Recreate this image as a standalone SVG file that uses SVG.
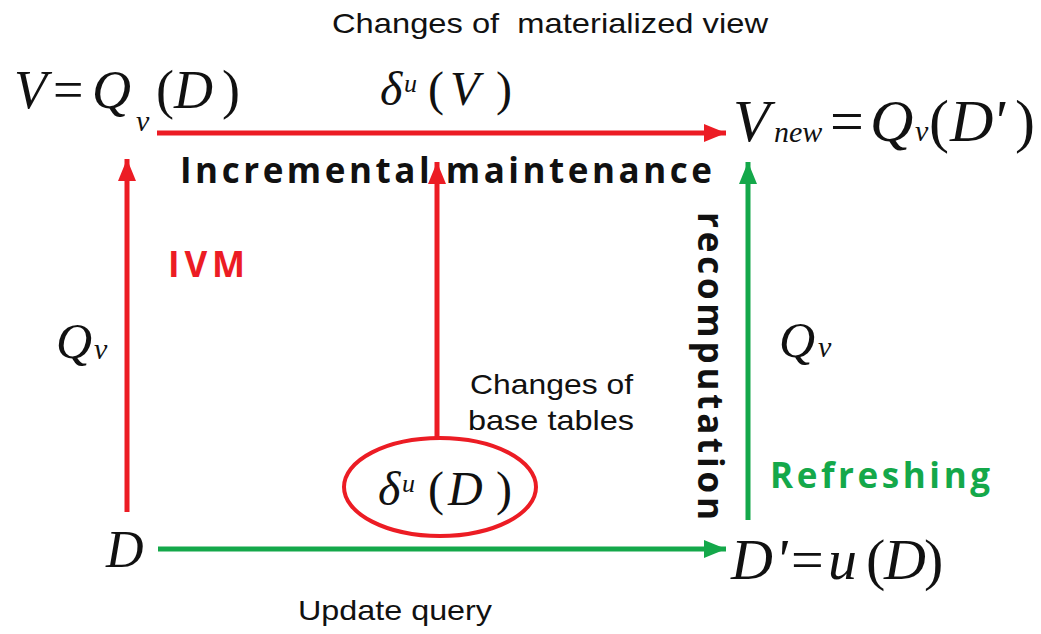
<svg xmlns="http://www.w3.org/2000/svg" width="1041" height="634" viewBox="0 0 1041 634">
<style>
.m{font-family:"Liberation Serif","Times New Roman",serif;font-style:italic;fill:#111}
.n{font-style:normal}
.lbl{font-family:"Liberation Sans",Arial,sans-serif;font-size:28px;fill:#111}
.b{font-family:"Open Sans","DejaVu Sans",sans-serif;font-weight:bold;font-size:35px}
.red{stroke:#ec1c24;stroke-width:5;fill:none}
.grn{stroke:#14a84a;stroke-width:5;fill:none}
</style>
<defs>
<marker id="ar" markerUnits="userSpaceOnUse" markerWidth="24" markerHeight="20" refX="22" refY="10" orient="auto"><path d="M0,1 L22,10 L0,19 Z" fill="#ec1c24"/></marker>
<marker id="ag" markerUnits="userSpaceOnUse" markerWidth="24" markerHeight="20" refX="22" refY="10" orient="auto"><path d="M0,1 L22,10 L0,19 Z" fill="#14a84a"/></marker>
</defs>
<rect width="1041" height="634" fill="#fff"/>
<g id="connectors">
<line class="red" x1="157" y1="133" x2="726" y2="133" marker-end="url(#ar)"/>
<line class="red" x1="127" y1="512" x2="127" y2="159" marker-end="url(#ar)"/>
<line class="red" x1="437" y1="437" x2="437" y2="162" stroke-width="3.5" marker-end="url(#ar)"/>
<line class="grn" x1="158" y1="549" x2="726" y2="549" marker-end="url(#ag)"/>
<line class="grn" x1="748" y1="520" x2="748" y2="162" marker-end="url(#ag)"/>
</g>
<g id="title"><text class="lbl" x="332" y="33" textLength="436" lengthAdjust="spacingAndGlyphs" xml:space="preserve">Changes of  materialized view</text></g>
<g id="node-V">
<text class="m" font-size="54" y="108"><tspan x="14">V</tspan><tspan class="n" x="53">=</tspan><tspan x="92">Q</tspan><tspan x="136" y="131" font-size="30">v</tspan><tspan class="n" x="156" y="108">(</tspan><tspan x="174">D</tspan><tspan class="n" x="222">)</tspan></text>
</g>
<g id="node-Vnew">
<text class="m" font-size="60" y="141"><tspan x="733">V</tspan><tspan x="774" y="142" font-size="30">new</tspan><tspan class="n" x="830" y="141">=</tspan><tspan x="870">Q</tspan><tspan x="915" font-size="30">v</tspan><tspan class="n" x="929" font-size="60">(</tspan><tspan x="950">D</tspan><tspan x="992">'</tspan><tspan class="n" x="1015">)</tspan></text>
</g>
<g id="label-dV">
<text class="m" font-size="48" y="105"><tspan x="380">δ</tspan><tspan x="404" y="92" font-size="26">u</tspan><tspan class="n" x="428" y="105">(</tspan><tspan x="450">V</tspan><tspan class="n" x="496">)</tspan></text>
</g>
<g id="label-incr"><text class="b" x="180" y="183" fill="#111" textLength="532" lengthAdjust="spacing">Incremental maintenance</text></g>
<g id="label-ivm"><text class="b" x="168" y="277" fill="#ec1c24" textLength="77" lengthAdjust="spacing">IVM</text></g>
<g id="label-qv-left">
<text class="m" font-size="50" y="358"><tspan x="56">Q</tspan><tspan x="94" y="359" font-size="30">v</tspan></text>
</g>
<g id="label-base"><text class="lbl" x="470" y="394" textLength="163" lengthAdjust="spacingAndGlyphs">Changes of</text><text class="lbl" x="468" y="430" textLength="166" lengthAdjust="spacingAndGlyphs">base tables</text></g>
<g id="node-dD">
<ellipse cx="440" cy="487" rx="96" ry="49" fill="none" stroke="#ec1c24" stroke-width="4"/>
<text class="m" font-size="48" y="505"><tspan x="378">δ</tspan><tspan x="402" y="492" font-size="26">u</tspan><tspan class="n" x="428" y="505">(</tspan><tspan x="448">D</tspan><tspan class="n" x="496">)</tspan></text>
</g>
<g id="label-recomp"><text class="b" transform="translate(698,212) rotate(90)" x="0" y="0" fill="#111" textLength="308" lengthAdjust="spacing">recomputation</text></g>
<g id="label-qv-right">
<text class="m" font-size="50" y="357"><tspan x="779">Q</tspan><tspan x="818" font-size="30">v</tspan></text>
</g>
<g id="label-refresh"><text class="b" x="770" y="488" fill="#14a84a" textLength="220" lengthAdjust="spacing">Refreshing</text></g>
<g id="node-D">
<text class="m" font-size="52" x="106" y="567">D</text>
</g>
<g id="node-Dp">
<text class="m" font-size="58" y="579"><tspan x="731">D</tspan><tspan x="775">'</tspan><tspan class="n" x="791">=</tspan><tspan x="828">u</tspan><tspan class="n" x="866">(</tspan><tspan x="884">D</tspan><tspan class="n" x="924">)</tspan></text>
</g>
<g id="label-update"><text class="lbl" x="298" y="620" textLength="194" lengthAdjust="spacingAndGlyphs">Update query</text></g>
</svg>
